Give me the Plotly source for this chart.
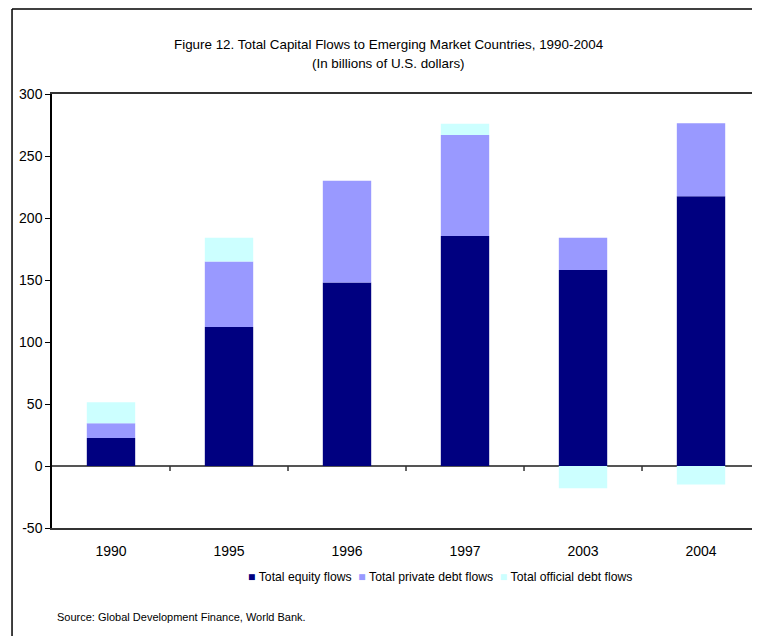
"""
Figure 12 - fluxos de capital para mercados emergentes (barras empilhadas).
"""
import plotly.graph_objects as go

# Dados (bilhões de US$)
anos = ["1990", "1995", "1996", "1997", "2003", "2004"]
equity_flows = [22.5, 112, 148, 185.5, 158, 217.5]
private_debt_flows = [12, 53, 82, 81.5, 26, 59]
official_debt_flows = [17, 19, 0, 9, -18, -15]
y_ticks = [-50, 0, 50, 100, 150, 200, 250, 300]

SERIES = [
    ("Total equity flows", equity_flows, "#000080"),
    ("Total private debt flows", private_debt_flows, "#9999FF"),
    ("Total official debt flows", official_debt_flows, "#CCFFFF"),
]

FONT = "Arial Narrow, Liberation Sans, Arial, sans-serif"

fig = go.Figure()
for nome, valores, cor in SERIES:
    fig.add_trace(go.Bar(
        x=anos,
        y=valores,
        name=nome,
        marker=dict(color=cor, line=dict(width=0)),
        showlegend=False,
    ))

# body da página tem margem de 8px -> figura menor para não gerar scrollbar
fig.update_layout(
    width=744,
    height=628,
    barmode="relative",
    bargap=0.59,
    paper_bgcolor="white",
    plot_bgcolor="white",
    font=dict(family=FONT, size=13, color="black"),
    margin=dict(l=44, r=0, t=86, b=108),
)

fig.update_xaxes(
    type="category",
    categoryorder="array",
    categoryarray=anos,
    range=[-0.5, 5.432],  # área cortada à direita, como no original
    showline=True, linecolor="#333", linewidth=1.5, mirror=True,
    ticks="", ticklabelstandoff=9,
    showgrid=False,
    tickfont=dict(size=14),
)
fig.update_yaxes(
    range=[-50, 300],
    tickvals=y_ticks,
    ticktext=[str(v) for v in y_ticks],
    showline=True, linecolor="black", linewidth=1.5,
    ticks="outside", ticklen=5, tickcolor="black",
    showgrid=False,
    zeroline=True, zerolinecolor="#555", zerolinewidth=2,
    tickfont=dict(size=14),
)

# Título em duas linhas
fig.add_annotation(
    text="Figure 12. Total Capital Flows to Emerging Market Countries, 1990-2004",
    xref="paper", yref="paper", x=0.481, y=1.115,
    xanchor="center", yanchor="middle", showarrow=False,
    font=dict(size=13.4),
)
fig.add_annotation(
    text="(In billions of U.S. dollars)",
    xref="paper", yref="paper", x=0.481, y=1.071,
    xanchor="center", yanchor="middle", showarrow=False,
    font=dict(size=13.4),
)

# Legenda compacta (como no original)
legenda = "&nbsp;&nbsp;".join(
    f"<span style='color:{cor}'>■</span>&nbsp;{nome}" for nome, _, cor in SERIES
)
fig.add_annotation(
    text=legenda,
    xref="paper", yref="paper", x=0.554, y=-0.113,
    xanchor="center", yanchor="middle", showarrow=False,
    font=dict(size=12.2),
)

fig.add_annotation(
    text="Source: Global Development Finance, World Bank.",
    xref="paper", yref="paper", x=0.004, y=-0.205,
    xanchor="left", yanchor="middle", showarrow=False,
    font=dict(size=11),
)

# Marcas de divisão entre categorias sobre a linha do zero
for i in range(1, len(anos)):
    fig.add_shape(
        type="line", xref="x", yref="y",
        x0=i - 0.5, x1=i - 0.5,
        ysizemode="pixel", yanchor=0, y0=0, y1=-5,
        line=dict(color="#333", width=1.5),
    )

# Moldura externa: só esquerda e topo aparecem no recorte
fig.add_shape(type="line", xref="paper", yref="paper",
              x0=-0.0571, x1=-0.0571, y0=-0.3, y1=1.1958,
              line=dict(color="black", width=1.5))
fig.add_shape(type="line", xref="paper", yref="paper",
              x0=-0.0571, x1=1.1, y0=1.1958, y1=1.1958,
              line=dict(color="black", width=1.5))

fig.write_html("out.html")
